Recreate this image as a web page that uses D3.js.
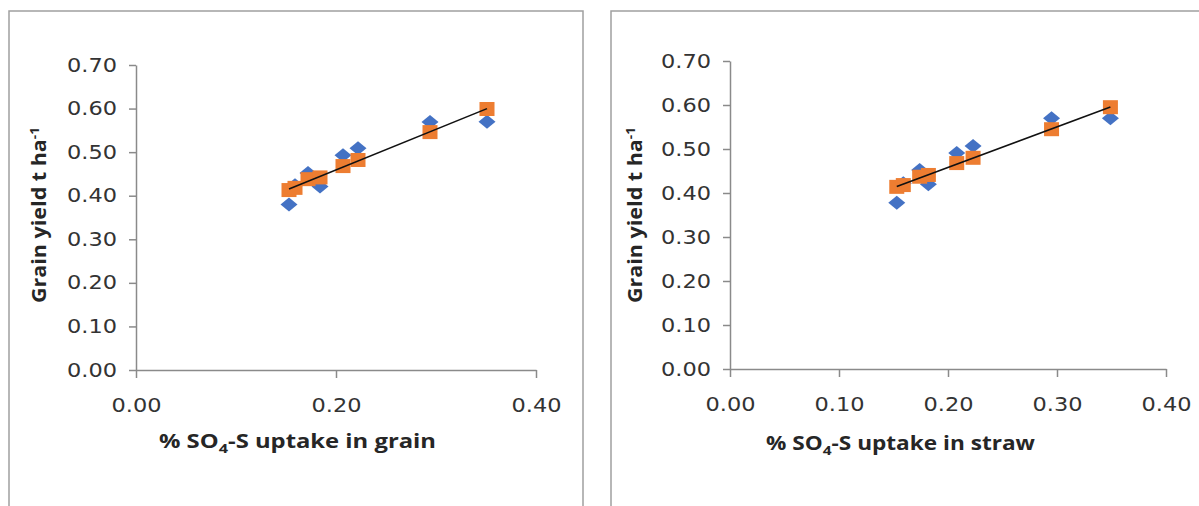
<!DOCTYPE html>
<html>
<head>
<meta charset="utf-8">
<script src="https://cdn.jsdelivr.net/npm/d3@7"></script>
<style>
  html, body { margin: 0; padding: 0; background: #fff; }
  svg { display: block; }
</style>
</head>
<body>
<svg id="chart" width="1199" height="506"></svg>
<script>
// % SO4-S uptake (x) for each treatment, one array per panel
const grainUptake = [0.153, 0.159, 0.172, 0.184, 0.207, 0.222, 0.294, 0.351];
const strawUptake = [0.153, 0.159, 0.174, 0.182, 0.208, 0.223, 0.295, 0.349];

// Grain yield (t ha-1): observed (blue diamonds) and predicted (orange squares)
const observedYieldGrain  = [0.380, 0.424, 0.452, 0.421, 0.493, 0.509, 0.569, 0.570];
const predictedYieldGrain = [0.413, 0.418, 0.438, 0.442, 0.468, 0.482, 0.546, 0.599];
const observedYieldStraw  = [0.378, 0.422, 0.452, 0.420, 0.491, 0.507, 0.570, 0.570];
const predictedYieldStraw = [0.414, 0.418, 0.437, 0.441, 0.468, 0.480, 0.545, 0.595];

// Axis tick values
const yTicks = [0, 0.1, 0.2, 0.3, 0.4, 0.5, 0.6, 0.7];
const xTicksGrain = [0, 0.2, 0.4];
const xTicksStraw = [0, 0.1, 0.2, 0.3, 0.4];

const yTitleMain = "Grain yield t ha";
const yTitleSup = "-1";

const svg = d3.select("#chart");
const fmt = d3.format(".2f");
const AXIS = "#8a8a8a";
const BLUE = "#4472C4";
const ORANGE = "#ED7D31";

// Least-squares line through a series
function fit(xs, ys) {
  const mx = d3.mean(xs), my = d3.mean(ys);
  let sxy = 0, sxx = 0;
  xs.forEach((x, i) => { sxy += (x - mx) * (ys[i] - my); sxx += (x - mx) * (x - mx); });
  const b = sxy / sxx;
  return { a: my - b * mx, b };
}

function drawPanel(cfg) {
  const g = svg.append("g");

  // chart frame (open at the bottom / right edge of the page)
  g.append("path")
    .attr("d", cfg.frame)
    .attr("fill", "none")
    .attr("stroke", "#a0a0a0")
    .attr("stroke-width", 1.5);

  const x = d3.scaleLinear().domain([0, 0.4]).range(cfg.xRange);
  const y = d3.scaleLinear().domain([0, 0.7]).range(cfg.yRange);

  const yAxis = g.append("g")
    .attr("transform", `translate(${cfg.xRange[0]},0)`)
    .call(d3.axisLeft(y).tickValues(yTicks).tickFormat(fmt).tickSize(7).tickSizeOuter(0).tickPadding(12));
  const xAxis = g.append("g")
    .attr("transform", `translate(0,${cfg.yRange[0]})`)
    .call(d3.axisBottom(x).tickValues(cfg.xTicks).tickFormat(fmt).tickSize(8).tickSizeOuter(0).tickPadding(21));

  [yAxis, xAxis].forEach(ax => {
    ax.select(".domain").attr("stroke", AXIS).attr("stroke-width", 1.5);
    ax.selectAll(".tick line").attr("stroke", AXIS).attr("stroke-width", 1.5);
    ax.selectAll(".tick text")
      .attr("fill", "#333")
      .attr("font-family", "DejaVu Sans")
      .attr("font-size", 19)
      .attr("textLength", 50)
      .attr("lengthAdjust", "spacingAndGlyphs");
  });

  // observed yield: blue diamonds
  const dw = 8.5, dh = 7;
  g.append("g").selectAll("path")
    .data(cfg.xs.map((v, i) => [v, cfg.observed[i]]))
    .join("path")
    .attr("d", d => {
      const cx = x(d[0]), cy = y(d[1]);
      return `M${cx},${cy - dh}L${cx + dw},${cy}L${cx},${cy + dh}L${cx - dw},${cy}Z`;
    })
    .attr("fill", BLUE);

  // predicted yield: orange squares
  const sw = 15, sh = 14;
  g.append("g").selectAll("rect")
    .data(cfg.xs.map((v, i) => [v, cfg.predicted[i]]))
    .join("rect")
    .attr("x", d => x(d[0]) - sw / 2)
    .attr("y", d => y(d[1]) - sh / 2)
    .attr("width", sw)
    .attr("height", sh)
    .attr("fill", ORANGE);

  // linear trend line over the predicted series
  const f = fit(cfg.xs, cfg.predicted);
  const ext = d3.extent(cfg.xs);
  g.append("line")
    .attr("x1", x(ext[0])).attr("y1", y(f.a + f.b * ext[0]))
    .attr("x2", x(ext[1])).attr("y2", y(f.a + f.b * ext[1]))
    .attr("stroke", "#111")
    .attr("stroke-width", 1.6);

  // x-axis title with subscript
  const xt = g.append("text")
    .attr("x", cfg.xTitle[0]).attr("y", cfg.xTitle[1])
    .attr("font-family", "Open Sans").attr("font-weight", 700)
    .attr("font-size", 19).attr("fill", "#262626")
    .attr("textLength", cfg.xTitleLen).attr("lengthAdjust", "spacingAndGlyphs");
  xt.append("tspan").text("% SO");
  xt.append("tspan").attr("font-size", 13).attr("dy", 5).text("4");
  xt.append("tspan").attr("dy", -5).text(cfg.xTitleRest);

  // y-axis title with superscript
  const yt = g.append("text")
    .attr("transform", `translate(${cfg.yTitle[0]},${cfg.yTitle[1]}) rotate(-90)`)
    .attr("font-family", "Open Sans").attr("font-weight", 700)
    .attr("font-size", 19).attr("fill", "#262626")
    .attr("textLength", 176).attr("lengthAdjust", "spacingAndGlyphs");
  yt.append("tspan").text(yTitleMain);
  yt.append("tspan").attr("font-size", 12).attr("dy", -7).text(yTitleSup);
}

drawPanel({
  frame: "M9,506V11H583V506",
  xRange: [136, 536], yRange: [370, 65],
  xTicks: xTicksGrain,
  xs: grainUptake, observed: observedYieldGrain, predicted: predictedYieldGrain,
  xTitle: [159, 448], xTitleLen: 277, xTitleRest: "-S uptake in grain",
  yTitle: [46, 303]
});

drawPanel({
  frame: "M611,506V11H1199",
  xRange: [730, 1166], yRange: [369, 61],
  xTicks: xTicksStraw,
  xs: strawUptake, observed: observedYieldStraw, predicted: predictedYieldStraw,
  xTitle: [766, 450], xTitleLen: 269, xTitleRest: "-S uptake in straw",
  yTitle: [642, 303]
});
</script>
</body>
</html>
